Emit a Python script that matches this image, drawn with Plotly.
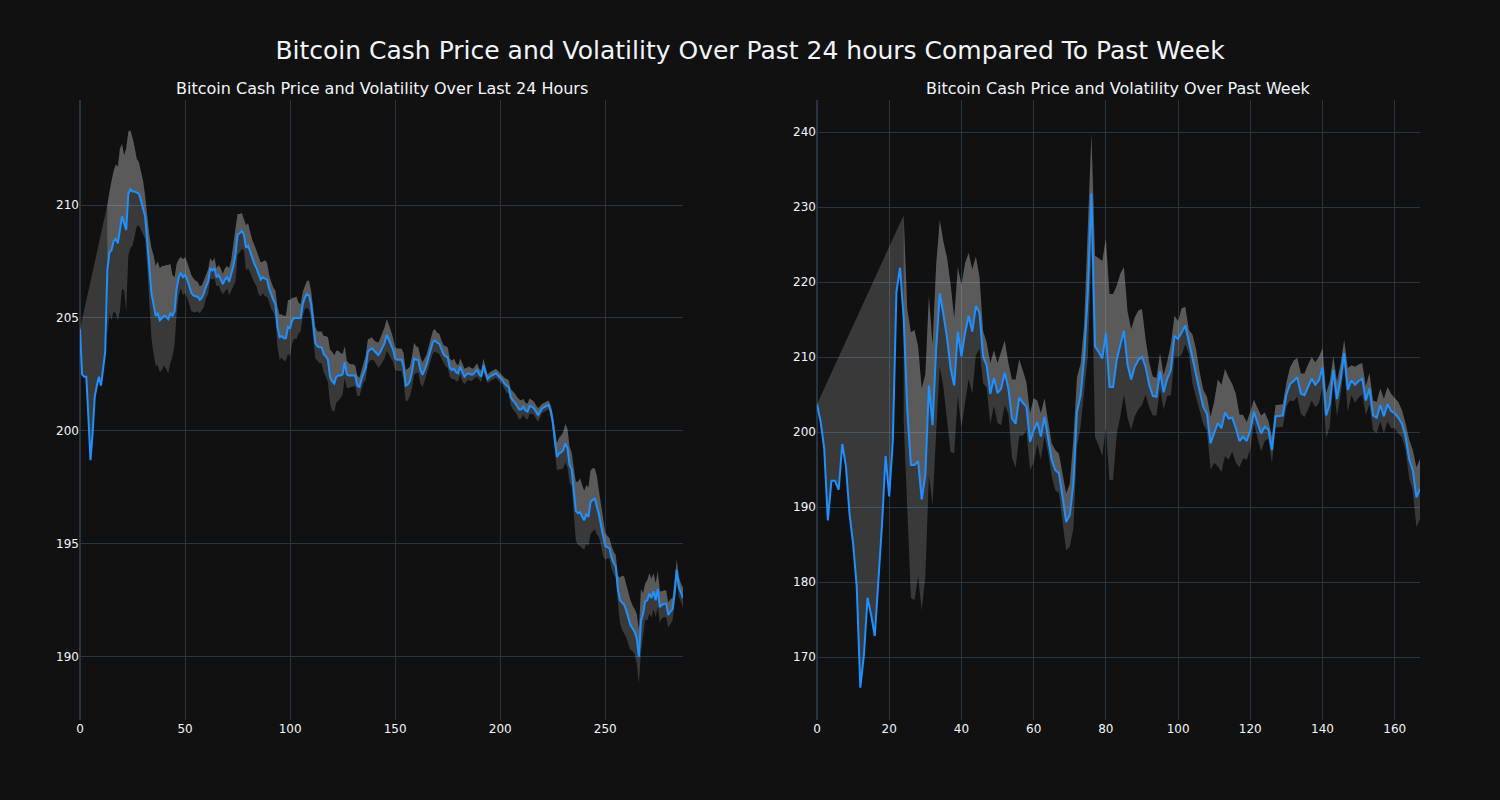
import plotly.graph_objects as go
from plotly.subplots import make_subplots

# ---- Last 24 hours (5-minute steps) ----
day_price = [
    204.5, 202.5, 202.4, 202.4, 200.6, 198.7, 199.9, 201.5, 202.0, 202.4,
    202.0, 202.8, 203.5, 207.1, 207.9, 208.0, 208.4, 208.5, 208.3, 208.9,
    209.5, 209.2, 208.9, 210.5, 210.7, 210.6, 210.6, 210.55, 210.5, 210.2,
    209.9, 209.5, 208.4, 207.2, 206.1, 205.6, 205.1, 205.2, 204.9, 205.0,
    205.1, 205.05, 204.95, 205.2, 205.1, 205.3, 206.3, 206.8, 207.0, 206.8,
    206.9, 206.7, 206.4, 206.1, 206.0, 205.95, 205.95, 205.8, 205.9, 206.1,
    206.4, 206.6, 207.2, 207.1, 207.2, 206.8, 206.9, 206.7, 206.5, 206.7,
    206.8, 206.6, 206.9, 207.3, 207.8, 208.7, 208.75, 208.85, 208.7, 208.1,
    208.2, 207.9, 207.6, 207.4, 207.2, 206.9, 206.7, 206.8, 206.75, 206.7,
    206.3, 206.0, 205.8, 205.6, 204.6, 204.15, 204.2, 204.1, 204.1, 204.6,
    204.55, 204.9, 205.0, 205.0, 205.0, 205.0, 205.6, 205.9, 206.05, 206.0,
    205.6, 204.8, 203.9, 203.75, 203.7, 203.7, 203.4, 203.3, 203.15, 202.4,
    202.2, 202.1, 202.4, 202.45, 202.45, 202.5, 203.05, 202.5, 202.45, 202.45,
    202.45, 202.45, 202.0, 201.95, 202.3, 202.6, 202.8, 203.5, 203.6, 203.65,
    203.55, 203.45, 203.35, 203.5, 203.7, 203.9, 204.25, 204.05, 203.85, 203.6,
    203.2, 203.15, 203.15, 203.15, 202.85, 202.0, 202.05, 202.2, 202.6, 203.2,
    203.15, 203.15, 202.7, 202.48, 202.7, 202.95, 203.3, 203.6, 203.95, 204.0,
    203.9, 203.85, 203.6, 203.4, 203.3, 203.25, 202.8, 202.7, 202.75, 202.6,
    202.55, 202.85, 202.6, 202.4, 202.5, 202.55, 202.5, 202.5, 202.6, 202.7,
    202.5, 202.4, 202.9, 202.6, 202.3, 202.4, 202.45, 202.5, 202.55, 202.45,
    202.35, 202.25, 202.1, 202.0, 201.95, 201.5, 201.35, 201.25, 201.1, 200.95,
    200.95, 201.07, 200.9, 200.85, 201.1, 201.07, 201.0, 200.85, 200.7, 200.85,
    201.0, 201.05, 201.1, 201.15, 200.9, 200.4, 199.6, 198.85, 199.0, 199.05,
    199.15, 199.45, 199.25, 198.5, 198.3, 197.3, 196.45, 196.35, 196.4, 196.2,
    196.05, 196.3, 196.2, 196.85, 196.95, 197.0, 196.7, 196.3, 195.8, 195.3,
    194.9, 194.85, 194.8, 194.4, 194.15, 194.0, 193.0, 192.5, 192.4, 192.3,
    192.05, 191.7, 191.4, 191.25, 191.1, 190.8, 190.0, 191.6, 191.9, 192.45,
    192.5, 192.8, 192.6, 192.9, 192.5, 193.0, 192.2, 192.3, 192.35, 192.35,
    191.85, 192.0, 192.1, 192.8, 193.85, 193.1, 192.85, 192.6,
]

day_vol = [None] * 13 + [
    2.9, 2.7, 3.1, 3.1, 3.3, 3.4, 3.6, 3.2, 3.0, 3.6,
    2.75, 2.6, 2.4, 2.0, 1.5, 1.4, 1.3, 1.2, 1.0, 1.1,
    1.5, 2.0, 2.2, 2.2, 2.3, 2.3, 2.3, 2.2, 2.3, 2.4,
    2.2, 1.8, 1.5, 1.1, 0.8, 0.7, 0.8, 0.8, 0.8, 0.8,
    0.8, 0.75, 0.7, 0.65, 0.6, 0.55, 0.6, 0.5, 0.55, 0.45,
    0.4, 0.45, 0.4, 0.45, 0.5, 0.45, 0.5, 0.5, 0.6, 0.7,
    0.9, 1.2, 0.9, 0.85, 0.8, 0.7, 1.0, 1.0, 0.9, 0.85,
    0.85, 0.8, 0.85, 0.75, 0.7, 0.8, 0.75, 0.6, 0.6, 0.55,
    0.6, 0.9, 1.0, 0.95, 1.0, 1.0, 1.2, 1.25, 1.0, 0.9,
    0.95, 0.7, 0.6, 0.55, 0.5, 0.6, 0.65, 0.6, 0.6, 0.7,
    0.65, 0.7, 0.7, 0.8, 0.9, 1.0, 1.2, 1.3, 1.25, 1.15,
    1.1, 1.0, 0.9, 0.7, 0.6, 0.55, 0.5, 0.5, 0.45, 0.45,
    0.4, 0.4, 0.45, 0.55, 0.55, 0.5, 0.5, 0.45, 0.5, 0.55,
    0.6, 0.65, 0.7, 0.7, 0.65, 0.6, 0.55, 0.5, 0.5, 0.5,
    0.5, 0.6, 0.7, 0.7, 0.65, 0.7, 0.7, 0.6, 0.55, 0.6,
    0.55, 0.5, 0.45, 0.45, 0.45, 0.5, 0.5, 0.45, 0.45, 0.4,
    0.4, 0.45, 0.45, 0.4, 0.4, 0.45, 0.4, 0.35, 0.35, 0.4,
    0.35, 0.3, 0.3, 0.3, 0.25, 0.25, 0.3, 0.25, 0.25, 0.3,
    0.25, 0.2, 0.2, 0.2, 0.2, 0.2, 0.2, 0.2, 0.2, 0.25,
    0.3, 0.3, 0.35, 0.4, 0.4, 0.4, 0.45, 0.4, 0.35, 0.35,
    0.35, 0.35, 0.3, 0.3, 0.3, 0.3, 0.25, 0.2, 0.2, 0.2,
    0.2, 0.25, 0.35, 0.5, 0.6, 0.7, 0.75, 0.8, 0.85, 0.85,
    0.8, 0.75, 1.0, 1.3, 1.4, 1.5, 1.4, 1.3, 1.3, 1.3,
    1.4, 1.4, 1.35, 1.3, 1.0, 0.9, 0.85, 0.6, 0.5, 0.45,
    0.5, 0.5, 0.5, 0.6, 1.0, 1.2, 1.25, 1.2, 1.15, 1.1,
    1.0, 1.0, 1.1, 1.2, 1.4, 0.9, 0.8, 0.9, 0.9, 0.85,
    0.8, 0.75, 0.8, 0.7, 0.6, 0.6, 0.6, 0.55, 0.55, 0.5,
    0.5, 0.45, 0.45, 0.4, 0.45, 0.45,
]

# ---- Past week (hourly steps) ----
week_price = [
    203.7, 201.4, 197.8, 188.2, 193.5, 193.5, 192.3, 198.4, 195.5, 189.1,
    185.1, 179.4, 165.9, 170.3, 177.9, 175.6, 172.8, 180.0, 187.6, 196.8,
    191.4, 198.8, 218.7, 221.9, 215.2, 202.9, 195.6, 195.6, 196.1, 191.0,
    194.2, 206.2, 200.9, 211.1, 218.5, 215.7, 212.6, 208.5, 206.2, 213.4,
    210.1, 213.2, 215.5, 213.4, 216.8, 215.9, 210.0, 208.9, 205.1, 207.2,
    205.2, 205.8, 207.9, 205.8, 201.8, 201.1, 204.6, 203.9, 203.4, 198.7,
    200.2, 201.3, 199.4, 202.0, 199.3, 196.3, 194.9, 194.5, 191.4, 188.0,
    188.9, 193.1, 202.7, 204.9, 210.0, 218.5, 231.8, 211.4, 210.7, 209.8,
    213.2, 206.0, 206.0, 209.6, 211.6, 213.5, 209.0, 207.0, 208.7, 209.6,
    210.0, 208.7, 206.3, 204.8, 204.7, 208.1, 205.3, 207.1, 208.3, 212.8,
    212.4, 213.4, 214.2, 212.0, 209.7, 207.8, 205.4, 203.3, 202.4, 198.5,
    200.0, 201.2, 200.5, 202.6, 201.8, 201.9, 200.5, 198.8, 199.4, 198.8,
    200.2, 202.7, 201.2, 199.8, 200.7, 200.3, 197.6, 202.1, 202.15, 202.2,
    205.0, 206.4, 206.8, 207.3, 205.1, 204.9, 206.0, 207.1, 206.3, 206.9,
    208.6, 202.2, 203.7, 208.3, 204.4, 207.0, 210.5, 205.6, 206.9, 206.3,
    206.8, 207.1, 204.2, 205.8, 202.2, 201.9, 203.6, 202.1, 203.7, 202.8,
    202.5, 201.9, 201.1, 199.4, 196.4, 194.9, 191.3, 192.4,
]

week_vol = [None] * 24 + [
    13.7, 13.5, 17.7, 18.0, 15.3, 14.8, 13.5, 12.0, 10.7, 11.2,
    9.8, 9.7, 10.7, 11.2, 9.0, 8.6, 9.5, 9.3, 8.4, 8.3,
    6.6, 4.8, 3.5, 3.0, 4.1, 3.7, 4.0, 4.9, 4.3, 3.4,
    5.2, 5.9, 5.1, 4.4, 3.2, 3.8, 4.3, 2.9, 3.1, 2.5,
    2.1, 2.2, 2.7, 2.6, 3.1, 3.8, 4.2, 6.0, 4.6, 4.2,
    4.5, 8.5, 8.0, 12.1, 12.5, 13.0, 12.6, 12.4, 12.4, 9.9,
    9.5, 8.5, 7.1, 6.7, 6.6, 6.6, 6.4, 3.7, 3.0, 2.6,
    2.5, 2.4, 2.3, 2.3, 3.4, 2.7, 2.4, 3.1, 2.5, 1.6,
    3.3, 3.2, 2.5, 2.3, 2.3, 3.5, 4.1, 5.8, 5.8, 5.8,
    5.5, 4.5, 4.6, 3.5, 2.9, 2.5, 2.5, 1.6, 2.0, 2.4,
    1.9, 1.2, 1.8, 1.5, 1.5, 1.5, 1.6, 2.2, 2.7, 2.6,
    2.7, 2.9, 3.0, 2.9, 3.0, 3.1, 2.6, 3.0, 3.0, 1.8,
    2.3, 2.1, 1.8, 2.9, 2.0, 2.4, 2.2, 2.1, 1.9, 2.1,
    2.0, 2.1, 2.2, 2.3, 2.3, 2.3, 2.0, 2.1, 1.8, 1.8,
    2.6, 2.7, 4.0, 4.0,
]

subplot_titles = [
    "Bitcoin Cash Price and Volatility Over Last 24 Hours",
    "Bitcoin Cash Price and Volatility Over Past Week",
]
main_title = "Bitcoin Cash Price and Volatility Over Past 24 hours Compared To Past Week"

LINE_COLOR = "#1E90FF"
FILL_COLOR = "rgba(255,255,255,0.17)"
FONT = "DejaVu Sans"


def add_panel(fig, price, vol, col):
    n = len(price)
    start = next(i for i, v in enumerate(vol) if v is not None)
    idx = list(range(start, n))
    upper = [price[i] + vol[i] for i in idx]
    lower = [price[i] - vol[i] for i in idx]
    # band between lower and upper
    fig.add_trace(go.Scatter(
        x=idx + idx[::-1], y=lower + upper[::-1], mode="lines",
        line=dict(width=0, color="rgba(0,0,0,0)"), fill="toself",
        fillcolor=FILL_COLOR, showlegend=False, hoverinfo="skip"), row=1, col=col)
    # band between price and upper (closing back to the first price)
    all_idx = list(range(n))
    fig.add_trace(go.Scatter(
        x=idx + all_idx[::-1], y=upper + price[::-1], mode="lines",
        line=dict(width=0, color="rgba(0,0,0,0)"), fill="toself",
        fillcolor=FILL_COLOR, showlegend=False, hoverinfo="skip"), row=1, col=col)
    fig.add_trace(go.Scatter(
        x=all_idx, y=price, mode="lines",
        line=dict(width=2, color=LINE_COLOR), showlegend=False), row=1, col=col)


fig = make_subplots(rows=1, cols=2, subplot_titles=subplot_titles)
add_panel(fig, day_price, day_vol, 1)
add_panel(fig, week_price, week_vol, 2)

fig.update_layout(
    template="plotly_dark",
    width=1500, height=800,
    font=dict(family=FONT),
    title=dict(text=main_title, x=0.5, xanchor="center",
               y=1 - 50 / 800, yref="container", yanchor="middle",
               font=dict(size=25)),
    showlegend=False,
)
fig.update_annotations(font=dict(size=16, family=FONT))

fig.update_xaxes(range=[0, len(day_price) - 1], row=1, col=1)
fig.update_xaxes(range=[0, len(week_price) - 1], row=1, col=2)
fig.update_yaxes(range=[187.2, 214.65], row=1, col=1)
fig.update_yaxes(range=[161.6, 244.27], row=1, col=2)

fig.write_html(
    "out.html",
    config={"displayModeBar": False},
    post_script="document.body.style.margin='0px';document.body.style.background='#111111';",
)
